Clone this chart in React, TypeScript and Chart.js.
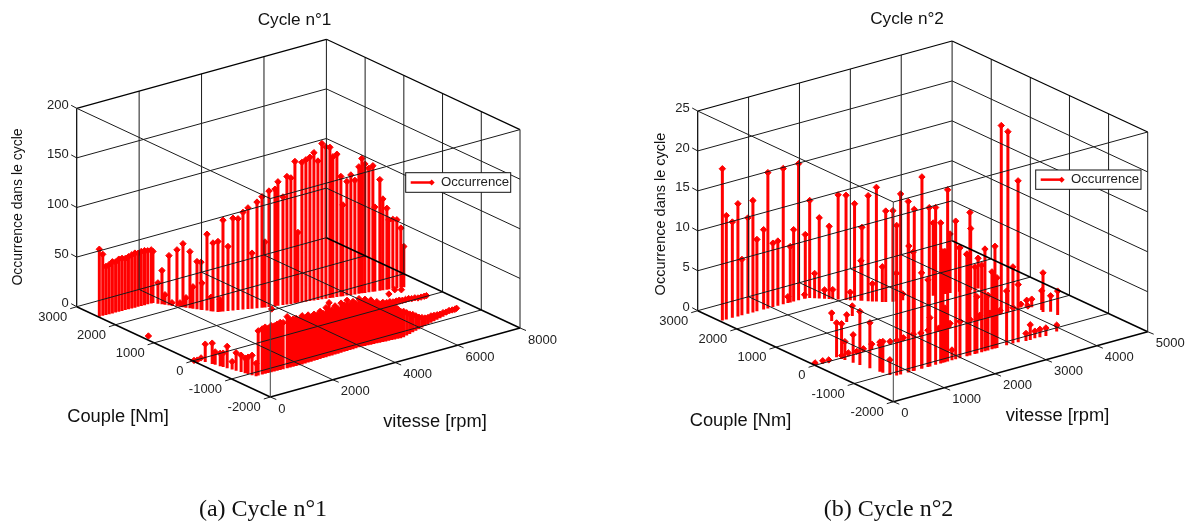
import React, { useEffect, useRef } from "react";
import { Chart, registerables } from "chart.js";

Chart.register(...registerables);

type Row = [number, number, number]; // speed rpm, torque Nm, occurrence

const torqueTicks = [3000, 2000, 1000, 0, -1000, -2000];
const speedTicks1 = [0, 2000, 4000, 6000, 8000];
const speedTicks2 = [0, 1000, 2000, 3000, 4000, 5000];
const occTicks1 = [0, 50, 100, 150, 200];
const occTicks2 = [0, 5, 10, 15, 20, 25];

const cycle1Plateau: Row[] = [
  [24, 2435, 68], [130, 2432, 62], [230, 2430, 49], [330, 2428, 50], [430, 2425, 52], [530, 2423, 51],
  [630, 2420, 53], [730, 2418, 53], [830, 2415, 52], [930, 2413, 53], [1030, 2410, 54], [1130, 2408, 55],
  [1230, 2406, 54], [1330, 2404, 55], [1430, 2402, 55], [1530, 2400, 54], [1640, 2398, 54], [1694, 2396, 52],
];
const cycle1Traction: Row[] = [
  [1764, 2324, 21], [1820, 2265, 34], [1863, 2222, 10], [1919, 2164, 50], [1961, 2120, 3], [2031, 2048, 57],
  [2074, 2004, 4], [2116, 1961, 64], [2158, 1917, 10], [2214, 1860, 57], [2256, 1816, 22], [2313, 1758, 48],
  [2369, 1700, 48], [2383, 1685, 27], [2453, 1613, 77], [2510, 1555, 14], [2538, 1526, 69], [2618, 1462, 71],
  [2667, 1449, 12], [2739, 1430, 92], [2860, 1398, 65], [2981, 1367, 93], [3102, 1335, 92], [3223, 1304, 98],
  [3344, 1272, 102], [3441, 1247, 56], [3562, 1215, 107], [3683, 1183, 112], [3756, 1164, 66], [3851, 1139, 117],
  [4008, 1111, 118], [4087, 1097, 125], [4220, 1075, 109], [4325, 1057, 129], [4431, 1040, 127], [4538, 1022, 143],
  [4617, 1008, 71], [4723, 991, 141], [4829, 973, 143], [4935, 955, 145], [5041, 937, 149], [5147, 919, 140],
  [5253, 902, 157], [5359, 884, 153], [5465, 866, 152], [5545, 853, 142], [5650, 835, 144], [5756, 817, 121],
  [5810, 808, 92], [5915, 790, 115], [6021, 773, 121], [6127, 755, 115], [6233, 737, 128], [6313, 724, 136],
  [6393, 710, 130], [6498, 692, 125], [6605, 675, 127], [6657, 666, 85], [6790, 644, 112], [6870, 630, 92],
  [6975, 612, 82], [7028, 604, 70], [7134, 586, 70], [7240, 568, 69], [7346, 550, 60], [7425, 537, 41],
];
const cycle1Braking: Row[] = [
  [684, -1136, 45], [808, -1140, 46], [900, -1143, 47], [993, -1145, 45], [1085, -1148, 47], [1178, -1151, 46],
  [1270, -1154, 47], [1363, -1157, 48], [1455, -1159, 47], [1579, -1163, 52], [1671, -1166, 48], [1764, -1168, 48],
  [1857, -1171, 48], [1950, -1174, 46], [2046, -1173, 49], [2145, -1171, 46], [2244, -1168, 48], [2343, -1166, 45],
  [2442, -1163, 47], [2541, -1161, 45], [2640, -1158, 48], [2739, -1155, 45], [2838, -1153, 50], [2937, -1150, 54],
  [3036, -1148, 46], [3135, -1145, 49], [3234, -1143, 45], [3333, -1140, 50], [3432, -1138, 47], [3531, -1135, 51],
  [3630, -1133, 46], [3729, -1130, 48], [3828, -1127, 45], [3927, -1125, 49], [4019, -1128, 45], [4107, -1134, 47],
  [4194, -1140, 43], [4282, -1146, 45], [4370, -1152, 41], [4458, -1158, 42], [4546, -1164, 39], [4634, -1170, 40],
  [4722, -1176, 37], [4810, -1182, 37], [4898, -1188, 34], [4986, -1194, 33], [5074, -1200, 30], [5161, -1206, 27],
  [5263, -1201, 26], [5394, -1175, 23], [5525, -1148, 20], [5655, -1121, 18], [5786, -1095, 15], [5916, -1068, 12],
  [6047, -1042, 10], [6175, -1016, 8], [6303, -991, 7], [6431, -966, 7], [6558, -941, 6], [6686, -916, 5],
  [6814, -890, 4], [6942, -865, 4], [7070, -840, 3], [7197, -815, 3], [7330, -790, 2], [7450, -760, 1], [7530, -740, 1],
];
const cycle1LowSpeed: Row[] = [
  [0, -30, 1], [80, -50, 1], [250, -10, 1], [200, -158, 18], [256, -293, 21], [280, -351, 13], [320, -448, 13],
  [344, -505, 14], [376, -583, 22], [416, -679, 8], [448, -756, 18], [488, -853, 17], [520, -930, 15], [544, -988, 17],
  [576, -1065, 20], [608, -1142, 13],
];
const cycle1Motoring: Row[] = [
  [6100, -10, 5], [6200, -10, 5], [6300, -10, 5], [6400, -10, 4], [6500, -10, 4], [6600, -10, 4], [6700, -10, 3],
  [6800, -10, 3], [6900, -10, 3], [7000, -10, 2], [7100, -10, 2], [7200, -10, 1], [7300, -10, 1], [7400, -10, 1], [7470, -10, 1],
];
const cycle1Isolated: Row[] = [
  [136, 1258, 1], [3780, 1012, 1], [7220, 435, 1], [7090, 500, 1], [6785, 407, 1],
];

const cycle2Traction: Row[] = [
  [44, 2427, 19], [121, 2426, 13], [238, 2424, 12], [346, 2422, 14.1], [424, 2421, 7], [540, 2419, 12], [637, 2417, 14],
  [715, 2416, 9], [845, 2414, 10], [928, 2413, 17], [1025, 2411, 8], [1122, 2410, 8.1], [1226, 2408, 17], [1362, 2406, 7],
  [1428, 2405, 9], [1524, 2403, 17.1], [1654, 2401, 8], [1722, 2377, 12.2], [1826, 2268, 10.1], [1934, 2155, 9.1],
  [2032, 2053, 13.1], [2118, 1963, 13.1], [2211, 1866, 12.1], [2291, 1782, 9.2], [2359, 1711, 13.2], [2449, 1617, 14.3],
  [2550, 1510, 11.4], [2648, 1454, 11.4], [1316, 2406, 0.8], [1640, 2401, 0.5], [1776, 2321, 3.1], [1884, 2208, 1.1],
  [1973, 2115, 1.2], [2164, 1914, 1], [2280, 1793, 5], [2405, 1662, 2.2], [2513, 1549, 4.4], [2705, 1439, 3.5],
  [2809, 1412, 0.8], [3308, 1282, 9.1], [3501, 1231, 5.3], [3584, 1210, 7.4], [3737, 1170, 5.5], [3859, 1138, 4.5],
  [3920, 1120, 7.7], [4050, 1100, 3.8],
];
const cycle2Braking: Row[] = [
  [735, -1130, 18.8], [813, -1130, 22.6], [963, -1130, 21.4], [1081, -1130, 20.2], [1232, -1130, 24], [1376, -1130, 19.9],
  [1501, -1130, 19.7], [1600, -1130, 17.6], [1737, -1130, 21.5], [1895, -1130, 17.3], [2175, -1130, 17.9], [2470, -1130, 12.8],
  [2667, -1130, 12.8], [2896, -1130, 6.8], [3020, -1130, 9.6], [3124, -1130, 7.2], [975, -1130, 15.8], [1060, -1130, 14.9],
  [1225, -1130, 12], [1350, -1130, 10.9], [1645, -1130, 13.9], [1979, -1130, 13.8], [2116, -1130, 12.8], [2273, -1130, 10.9],
  [2608, -1130, 9.7], [2706, -1130, 8.8], [1684, -1130, 6.8], [1822, -1130, 1.3], [1389, -1130, 6.1], [2313, -1130, 7.1],
  [2529, -1130, 6.9], [2405, -1130, 10.9], [3250, -1165, 0.95], [3330, -1170, 1.9], [3430, -1157, 0.9], [3520, -1170, 1],
  [3630, -1180, 1], [3880, -1130, 0.8],
];
const cycle2LowSpeed: Row[] = [
  [480, 74, 4.3], [497, -31, 4.4], [509, -100, 2.3], [538, -274, 3.5], [562, -415, 6.7], [597, -625, 5.7], [632, -835, 3.7],
  [642, -898, 3.9], [667, -1045, 1.9], [1380, 1370, 1], [1540, 1194, 0.9], [1770, 1350, 1.25],
];
const cycle2Motoring: Row[] = [
  [0, 0, 0.3], [151, 0, 0.3], [269, 0, 0.2], [525, 0, 0.3], [655, 0, 0.4], [820, 0, 0.3], [950, 0, 0.4], [1115, 0, 0.7],
  [1278, 0, 0.3], [1474, 0, 0.4], [1606, 0, 0.3], [1735, 0, 0.4], [1932, 0, 0.5], [2080, 0, 0.4], [2220, 0, 0.5], [2430, 0, 0.4],
  [2653, 0, 0.6], [2850, 0, 0.5], [3046, 0, 0.4], [3240, 0, 0.6], [3440, 0, 0.5], [3635, 0, 0.5], [3890, 0, 0.4],
  [3660, 0, 23.6], [3790, 0, 22.6], [3990, 0, 16.1], [4100, 70, 0.3], [4190, 40, 0.7], [4160, -30, 0.2], [4220, -50, 1],
  [4270, -240, 2.4], [4230, -325, 4.9], [4330, -390, 2], [4330, -570, 3],
];

const cycle1Rows = [...cycle1Plateau, ...cycle1Traction, ...cycle1Braking, ...cycle1LowSpeed, ...cycle1Motoring, ...cycle1Isolated];
const cycle2Rows = [...cycle2Traction, ...cycle2Braking, ...cycle2LowSpeed, ...cycle2Motoring];

type Pt = [number, number];
type View = {
  left: number; width: number; speedMax: number; occMax: number; speedTicks: number[]; occTicks: number[];
  A: Pt; B: Pt; C: Pt; H: number; rows: Row[];
  title: string; titleAt: Pt; caption: string; captionAt: Pt; couple: Pt; vitesse: Pt; occLabel: Pt; occFont: number; legendBox: [number, number, number, number];
};

const views: View[] = [
  {
    left: 0, width: 597, speedMax: 8000, occMax: 200, speedTicks: speedTicks1, occTicks: occTicks1,
    A: [76.7, 306.7], B: [270.3, 397], C: [520, 328], H: 198.4, rows: cycle1Rows,
    title: "Cycle n°1", titleAt: [294.5, 20], caption: "(a) Cycle n°1", captionAt: [263, 510], couple: [118, 416.5], vitesse: [435, 422],
    occLabel: [18.5, 207], occFont: 14, legendBox: [405.7, 172.7, 105, 19.6],
  },
  {
    left: 597, width: 598, speedMax: 5000, occMax: 25, speedTicks: speedTicks2, occTicks: occTicks2,
    A: [697.7, 310.7], B: [893.3, 401.7], C: [1147.7, 331.7], H: 199.7, rows: cycle2Rows,
    title: "Cycle n°2", titleAt: [907, 19], caption: "(b) Cycle n°2", captionAt: [888.5, 510], couple: [740.5, 420.5], vitesse: [1057.5, 416],
    occLabel: [661, 214], occFont: 14.5, legendBox: [1035.7, 170, 105.3, 19.3],
  },
];

function project(v: View, s: number, t: number, o: number): Pt {
  const u = s / v.speedMax;
  const w = (3000 - t) / 5000;
  return [
    v.A[0] + u * (v.C[0] - v.B[0]) + w * (v.B[0] - v.A[0]),
    v.A[1] + u * (v.C[1] - v.B[1]) + w * (v.B[1] - v.A[1]) - (o / v.occMax) * v.H,
  ];
}

function makeChart(canvas: HTMLCanvasElement, v: View): Chart {
  const stems: any[] = [];
  const tops: any[] = [];
  for (const [s, t, o] of v.rows) {
    const b = project(v, s, t, 0);
    const p = project(v, s, t, o);
    stems.push({ x: b[0], y: b[1] }, { x: p[0], y: p[1] }, { x: NaN, y: NaN });
    tops.push({ x: p[0], y: p[1] });
  }
  const overlay = {
    id: "overlay",
    afterDatasetsDraw(chart: any) {
      const ctx: CanvasRenderingContext2D = chart.ctx;
      const sx = chart.scales.x;
      const sy = chart.scales.y;
      const px = (p: Pt): Pt => [sx.getPixelForValue(p[0]), sy.getPixelForValue(p[1])];
      const P = (s: number, t: number, o: number) => px(project(v, s, t, o));
      const seg = (a: Pt, b: Pt, w = 1, c = "#1a1a1a") => {
        ctx.beginPath();
        ctx.lineWidth = w;
        ctx.strokeStyle = c;
        ctx.moveTo(a[0], a[1]);
        ctx.lineTo(b[0], b[1]);
        ctx.stroke();
      };
      const sm = v.speedMax;
      const zm = v.occMax;
      ctx.save();
      // grid on floor and back walls
      for (const s of v.speedTicks) {
        if (s > 0 && s < sm) {
          seg(P(s, 3000, 0), P(s, -2000, 0));
          seg(P(s, 3000, 0), P(s, 3000, zm));
        }
      }
      for (const t of torqueTicks) {
        if (t > -2000 && t < 3000) {
          seg(P(0, t, 0), P(sm, t, 0));
          seg(P(sm, t, 0), P(sm, t, zm));
        }
      }
      for (const o of v.occTicks) {
        if (o > 0 && o < zm) {
          seg(P(0, 3000, o), P(sm, 3000, o));
          seg(P(sm, 3000, o), P(sm, -2000, o));
        }
      }
      // box
      seg(P(0, 3000, 0), P(sm, 3000, 0));
      seg(P(sm, 3000, 0), P(sm, -2000, 0), 1.5, "#000");
      seg(P(0, 3000, 0), P(0, -2000, 0), 1.5, "#000");
      seg(P(0, -2000, 0), P(sm, -2000, 0), 1.5, "#000");
      seg(P(0, 3000, 0), P(0, 3000, zm), 1.2, "#000");
      seg(P(sm, 3000, 0), P(sm, 3000, zm));
      seg(P(sm, -2000, 0), P(sm, -2000, zm));
      seg(P(0, -2000, 0), P(0, -2000, zm), 1, "#444");
      seg(P(0, 3000, zm), P(sm, 3000, zm), 1.2, "#000");
      seg(P(sm, 3000, zm), P(sm, -2000, zm), 1.2, "#000");
      seg(P(0, 3000, zm), P(0, -2000, zm));
      seg(P(0, -2000, zm), P(sm, -2000, zm));
      // ticks and labels
      ctx.fillStyle = "#222";
      ctx.font = '13px "Liberation Sans"';
      ctx.textBaseline = "middle";
      ctx.textAlign = "right";
      for (const o of v.occTicks) {
        const a = P(0, 3000, o);
        seg([a[0] - 5.5, a[1] - 3], a);
        ctx.fillText(String(o), a[0] - 8, a[1] - 3);
      }
      for (const t of torqueTicks) {
        const a = P(0, t, 0);
        seg([a[0] - 6.5, a[1] + 2], a);
        ctx.fillText(String(t), a[0] - 9.5, a[1] + 10.5);
      }
      ctx.textAlign = "left";
      for (const s of v.speedTicks) {
        const a = P(s, -2000, 0);
        seg(a, [a[0] + 6, a[1] + 2.5]);
        ctx.fillText(String(s), a[0] + 8, a[1] + 12);
      }
      // titles
      ctx.fillStyle = "#111";
      ctx.textAlign = "center";
      ctx.font = '17.2px "Liberation Sans"';
      const title = px(v.titleAt);
      ctx.fillText(v.title, title[0], title[1]);
      ctx.font = '18.3px "Liberation Sans"';
      const c = px(v.couple);
      ctx.fillText("Couple [Nm]", c[0], c[1]);
      const sp = px(v.vitesse);
      ctx.fillText("vitesse [rpm]", sp[0], sp[1]);
      const oc = px(v.occLabel);
      ctx.save();
      ctx.translate(oc[0], oc[1]);
      ctx.rotate(-Math.PI / 2);
      ctx.font = `${v.occFont}px "Liberation Sans"`;
      ctx.fillText("Occurrence dans le cycle", 0, 0);
      ctx.restore();
      ctx.font = '24px "Liberation Serif"';
      const cap = px(v.captionAt);
      ctx.fillText(v.caption, cap[0], cap[1]);
      // legend
      const [lx, ly, lw, lh] = v.legendBox;
      const tl = px([lx, ly]);
      ctx.fillStyle = "#fff";
      ctx.fillRect(tl[0], tl[1], lw, lh);
      ctx.lineWidth = 1;
      ctx.strokeStyle = "#111";
      ctx.strokeRect(tl[0], tl[1], lw, lh);
      const my = tl[1] + lh / 2;
      ctx.beginPath();
      ctx.lineWidth = 2.5;
      ctx.strokeStyle = "#ff0000";
      ctx.moveTo(tl[0] + 5, my);
      ctx.lineTo(tl[0] + 26, my);
      ctx.stroke();
      ctx.fillStyle = "#ff0000";
      ctx.beginPath();
      ctx.moveTo(tl[0] + 29, my);
      ctx.lineTo(tl[0] + 26, my - 3);
      ctx.lineTo(tl[0] + 23, my);
      ctx.lineTo(tl[0] + 26, my + 3);
      ctx.closePath();
      ctx.fill();
      ctx.fillStyle = "#222";
      ctx.textAlign = "left";
      ctx.font = '13.2px "Liberation Sans"';
      ctx.fillText("Occurrence", tl[0] + 35.3, my);
      ctx.restore();
    },
  };
  return new Chart(canvas, {
    type: "scatter",
    data: {
      datasets: [
        { label: "Occurrence", data: stems, showLine: true, spanGaps: false, borderColor: "#ff0000", borderWidth: 3, pointRadius: 0, order: 2 } as any,
        { label: "Occurrence", data: tops, showLine: false, pointStyle: "rectRot", pointRadius: 3.2, backgroundColor: "#ff0000", borderColor: "#ff0000", borderWidth: 1, order: 1 } as any,
      ],
    },
    options: {
      animation: false,
      responsive: false,
      devicePixelRatio: 1,
      events: [],
      layout: { padding: 0, autoPadding: false },
      plugins: { legend: { display: false }, title: { display: false }, tooltip: { enabled: false } },
      scales: {
        x: { type: "linear", display: false, min: v.left, max: v.left + v.width },
        y: { type: "linear", display: false, reverse: true, min: 0, max: 522 },
      },
    },
    plugins: [overlay as any],
  });
}

export default function App() {
  const leftRef = useRef<HTMLCanvasElement>(null);
  const rightRef = useRef<HTMLCanvasElement>(null);
  useEffect(() => {
    const charts = [makeChart(leftRef.current!, views[0]), makeChart(rightRef.current!, views[1])];
    return () => charts.forEach((c) => c.destroy());
  }, []);
  return (
    <div style={{ position: "absolute", left: 0, top: 0, width: 1195, height: 522, background: "#fff", overflow: "hidden" }}>
      <canvas ref={leftRef} width={597} height={522} style={{ position: "absolute", left: 0, top: 0 }} />
      <canvas ref={rightRef} width={598} height={522} style={{ position: "absolute", left: 597, top: 0 }} />
    </div>
  );
}
